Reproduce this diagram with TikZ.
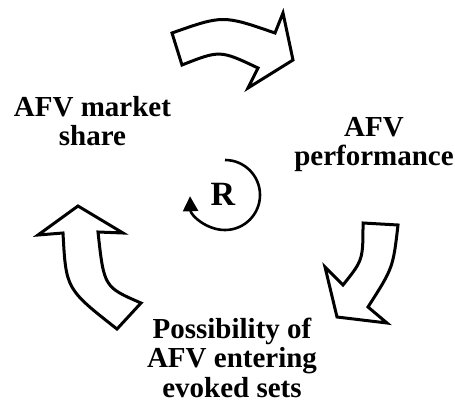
\documentclass[tikz,border=0pt]{standalone}
\usepackage{fontspec}
\setmainfont{Liberation Serif}
\usetikzlibrary{arrows.meta}
\begin{document}
\begin{tikzpicture}[x=1pt,y=-1pt,
  factor/.style={font=\bfseries\fontsize{29}{29.5}\selectfont, align=center,
                 inner sep=0pt, anchor=base, text depth=0pt},
  blockarrow/.style={draw=black, fill=white, line width=3pt,
                     line join=miter, miter limit=10},
  loopline/.style={line width=2.6pt, -{Triangle[length=15pt,width=15pt]}}]
\useasboundingbox (0,0) rectangle (455,401);

% the three variables of the loop (anchored at the last line's baseline)
\node[factor] (share) at (92.5,146) {AFV market\\share};
\node[factor] (perf)  at (374,165.5) {AFV\\performance};
\node[factor] (evoke) at (232,397) {Possibility of\\AFV entering\\evoked sets};

% reinforcing loop marker
\node[font=\bfseries\fontsize{34}{34}\selectfont, inner sep=0pt, anchor=base]
  (R) at (223,205) {R};
\draw[loopline] (225,195) ++(-90:35) arc[start angle=-90, end angle=178, radius=35];

% block arrow: market share -> performance
\draw[blockarrow] (172,33) .. controls (223,15) .. (275,33) -- (283,13) -- (293,60)
  -- (248,88) -- (258,68) .. controls (220,50) .. (182,65) -- cycle;

% block arrow: performance -> evoked sets
\draw[blockarrow] (363,223) -- (398,225) .. controls (393,268) .. (368,307)
  -- (387,323) -- (337,317) -- (325,267) -- (343,285)
  .. controls (363,260) .. (363,223) -- cycle;

% block arrow: evoked sets -> market share
\draw[blockarrow] (78,206) -- (123,233) -- (98,232) .. controls (104,287) .. (141,303)
  -- (117,329) .. controls (66,289) .. (63,233) -- (38,235) -- cycle;
\end{tikzpicture}
\end{document}
